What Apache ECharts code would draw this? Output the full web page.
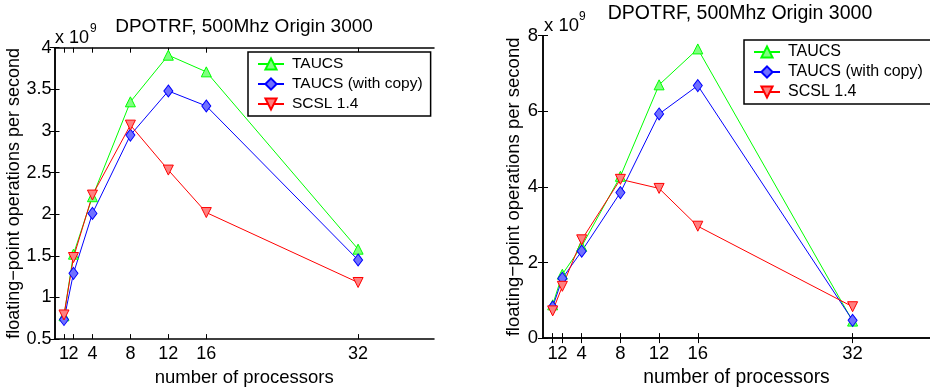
<!DOCTYPE html>
<html>
<head>
<meta charset="utf-8">
<script src="https://cdn.jsdelivr.net/npm/echarts@6/dist/echarts.min.js"></script>
<style>
  html, body { margin: 0; padding: 0; background: #fff; }
  #chart { width: 930px; height: 392px; }
</style>
</head>
<body>
<div id="chart"></div>
<script>
// processors on the x axis
const procs = [1, 2, 4, 8, 12, 16, 32];
const xTicks = [1, 2, 4, 8, 12, 16, 32];

// left panel, flop/s in units of 1e9
const leftTaucs = [0.78, 1.52, 2.21, 3.35, 3.91, 3.71, 1.58];
const leftTaucsCopy = [0.735, 1.29, 2.01, 2.95, 3.48, 3.30, 1.45];
const leftScsl = [0.79, 1.48, 2.23, 3.07, 2.53, 2.02, 1.18];

// right panel, flop/s in units of 1e9
const rightTaucs = [0.88, 1.69, 2.43, 4.28, 6.70, 7.65, 0.45];
const rightTaucsCopy = [0.82, 1.58, 2.30, 3.85, 5.93, 6.68, 0.47];
const rightScsl = [0.72, 1.37, 2.60, 4.20, 3.96, 2.96, 0.83];

const names = ['TAUCS', 'TAUCS (with copy)', 'SCSL 1.4'];
const titleText = 'DPOTRF, 500Mhz Origin 3000';
const FONT = 'Liberation Sans, Arial, Helvetica, sans-serif';

const chart = echarts.init(document.getElementById('chart'));

const pairs = arr => procs.map((p, i) => [p, arr[i]]);

const styles = [
  { line: '#00ff00', fill: '#80ff80', symbol: 'triangle', size: 10, rotate: 0 },
  { line: '#0000ff', fill: '#7070ff', symbol: 'diamond', size: [9, 12], rotate: 0 },
  { line: '#ff0000', fill: '#ff8080', symbol: 'triangle', size: 10, rotate: 180 }
];

function makeSeries(gridIdx, arrays) {
  return arrays.map((arr, k) => ({
    name: names[k],
    type: 'line',
    xAxisIndex: gridIdx * 3,
    yAxisIndex: gridIdx * 2,
    data: pairs(arr),
    symbol: styles[k].symbol,
    symbolSize: styles[k].size,
    symbolRotate: styles[k].rotate,
    showAllSymbol: true,
    lineStyle: { color: styles[k].line, width: 1 },
    itemStyle: { color: styles[k].fill, borderColor: styles[k].line, borderWidth: 1 },
    emphasis: { disabled: true },
    animation: false
  }));
}

const axisLineStyle = { lineStyle: { color: '#000', width: 1.5 } };
const tickStyle = { inside: true, length: 5, lineStyle: { color: '#000', width: 1 } };

function xAxes(gridIdx, fs, nameFs) {
  const labelStyle = { color: '#000', fontSize: fs, fontFamily: FONT, margin: 6, hideOverlap: false };
  return [
    {
      type: 'value', gridIndex: gridIdx, min: 0, max: 40, position: 'bottom',
      axisLine: axisLineStyle,
      axisTick: Object.assign({ customValues: xTicks }, tickStyle),
      axisLabel: Object.assign({ customValues: xTicks.slice(1), showMinLabel: true }, labelStyle),
      splitLine: { show: false },
      name: 'number of processors', nameLocation: 'middle', nameGap: 23,
      nameTextStyle: { color: '#000', fontSize: nameFs, fontFamily: FONT }
    },
    {
      type: 'value', gridIndex: gridIdx, min: 0, max: 40, position: 'top',
      axisLine: axisLineStyle,
      axisTick: Object.assign({ customValues: xTicks }, tickStyle),
      axisLabel: { show: false },
      splitLine: { show: false }
    },
    // the "1" label sits right against "2", so it gets its own label-only axis
    {
      type: 'value', gridIndex: gridIdx, min: 0, max: 40, position: 'bottom', offset: 0,
      axisLine: { show: false },
      axisTick: { show: false },
      axisLabel: Object.assign({ customValues: xTicks.slice(0, 1), showMinLabel: true }, labelStyle),
      splitLine: { show: false }
    }
  ];
}

function yAxes(gridIdx, min, max, interval, nameGap, labelMargin, fs) {
  return [
    {
      type: 'value', gridIndex: gridIdx, min: min, max: max, interval: interval, position: 'left',
      axisLine: axisLineStyle,
      axisTick: tickStyle,
      axisLabel: { color: '#000', fontSize: fs, fontFamily: FONT, margin: labelMargin },
      splitLine: { show: false },
      name: 'floating\u2212point operations per second', nameLocation: 'middle', nameGap: nameGap,
      nameTextStyle: { color: '#000', fontSize: fs, fontFamily: FONT }
    },
    {
      type: 'value', gridIndex: gridIdx, min: min, max: max, interval: interval, position: 'right',
      axisLine: axisLineStyle,
      axisTick: tickStyle,
      axisLabel: { show: false },
      splitLine: { show: false }
    }
  ];
}

function legend(left, top, fs, padRight) {
  return {
    data: names,
    orient: 'vertical',
    left: left, top: top,
    itemWidth: 26, itemHeight: 14, itemGap: 4,
    padding: [4, padRight, 4, 9],
    backgroundColor: '#fff',
    borderColor: '#000', borderWidth: 1.5,
    selectedMode: false,
    textStyle: { color: '#000', fontSize: fs, fontFamily: FONT, padding: [0, 0, 0, 3] }
  };
}

function textEl(x, y, text, size, align) {
  return {
    type: 'text', x: x, y: y, z: 10,
    style: { text: text, fill: '#000', fontSize: size, fontFamily: FONT, align: align || 'left', verticalAlign: 'middle' }
  };
}

const option = {
  animation: false,
  grid: [
    { left: 54.5, top: 47.7, width: 379.5, height: 299 },
    { left: 543, top: 35.7, width: 393, height: 310 }
  ],
  xAxis: xAxes(0, 18, 18.5).concat(xAxes(1, 18.5, 19.3)),
  yAxis: yAxes(0, 0.5, 4, 0.5, 26.5, 3, 18).concat(yAxes(1, 0, 8, 2, 11, 5, 18.5)),
  legend: [legend(248, 52, 15.5, 8), legend(744, 40, 16, 14)],
  series: makeSeries(0, [leftTaucs, leftTaucsCopy, leftScsl])
    .concat(makeSeries(1, [rightTaucs, rightTaucsCopy, rightScsl])),
  graphic: [
    textEl(244, 27, titleText, 19, 'center'),
    textEl(740, 14, titleText, 19.5, 'center'),
    textEl(55, 38, 'x 10', 18),
    textEl(90, 29, '9', 12),
    textEl(544, 26, 'x 10', 18.5),
    textEl(579, 17, '9', 12)
  ]
};

chart.setOption(option);
</script>
</body>
</html>
